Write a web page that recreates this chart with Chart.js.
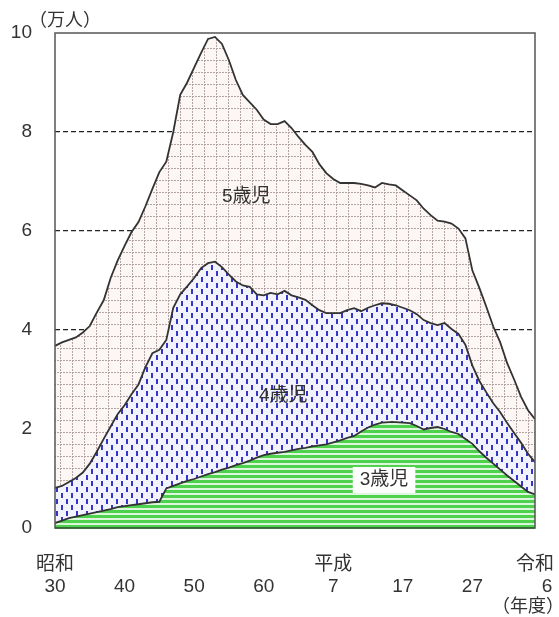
<!DOCTYPE html>
<html>
<head>
<meta charset="utf-8">
<script src="https://cdn.jsdelivr.net/npm/chart.js@4/dist/chart.umd.min.js"></script>
<style>
  html, body { margin: 0; padding: 0; background: #fff; }
</style>
</head>
<body>
<canvas id="chart" width="559" height="617"></canvas>
<script>
// ── Data (万人) ───────────────────────────────────────────
const years = [
  1955, 1956, 1957, 1958, 1959, 1960, 1961, 1962, 1963, 1964,
  1965, 1966, 1967, 1968, 1969, 1970, 1971, 1972, 1973, 1974,
  1975, 1976, 1977, 1978, 1979, 1980, 1981, 1982, 1983, 1984,
  1985, 1986, 1987, 1988, 1989, 1990, 1991, 1992, 1993, 1994,
  1995, 1996, 1997, 1998, 1999, 2000, 2001, 2002, 2003, 2004,
  2005, 2006, 2007, 2008, 2009, 2010, 2011, 2012, 2013, 2014,
  2015, 2016, 2017, 2018, 2019, 2020, 2021, 2022, 2023, 2024,
];

const age3 = [
  0.10, 0.15, 0.20, 0.23, 0.26, 0.29, 0.32, 0.35, 0.38, 0.42,
  0.44, 0.46, 0.48, 0.50, 0.52, 0.53, 0.80, 0.85, 0.90, 0.95,
  0.99, 1.04, 1.09, 1.13, 1.18, 1.22, 1.27, 1.31, 1.36, 1.42,
  1.47, 1.50, 1.52, 1.54, 1.57, 1.60, 1.62, 1.65, 1.67, 1.69,
  1.73, 1.77, 1.82, 1.86, 1.95, 2.03, 2.09, 2.13, 2.14, 2.14,
  2.13, 2.12, 2.06, 1.99, 2.02, 2.04, 2.00, 1.94, 1.90, 1.80,
  1.70, 1.55, 1.42, 1.30, 1.18, 1.06, 0.95, 0.84, 0.73, 0.68,
];

const age4 = [
  0.71, 0.70, 0.73, 0.78, 0.86, 1.01, 1.22, 1.45, 1.67, 1.88,
  2.04, 2.24, 2.42, 2.75, 3.01, 3.07, 3.00, 3.60, 3.82, 3.93,
  4.06, 4.21, 4.26, 4.25, 4.09, 3.90, 3.71, 3.59, 3.51, 3.30,
  3.23, 3.25, 3.20, 3.25, 3.13, 3.06, 2.99, 2.85, 2.73, 2.65,
  2.61, 2.57, 2.58, 2.58, 2.43, 2.42, 2.41, 2.41, 2.39, 2.36,
  2.32, 2.28, 2.26, 2.21, 2.12, 2.06, 2.14, 2.08, 2.02, 1.90,
  1.58, 1.42, 1.32, 1.22, 1.16, 1.06, 0.97, 0.88, 0.77, 0.65,
];

const age5 = [
  2.87, 2.90, 2.87, 2.84, 2.83, 2.78, 2.81, 2.80, 3.00, 3.10,
  3.22, 3.28, 3.28, 3.25, 3.32, 3.59, 3.60, 3.55, 4.03, 4.12,
  4.25, 4.35, 4.53, 4.54, 4.51, 4.33, 4.07, 3.85, 3.73, 3.73,
  3.55, 3.41, 3.44, 3.43, 3.38, 3.24, 3.13, 3.10, 2.95, 2.83,
  2.71, 2.63, 2.57, 2.53, 2.57, 2.47, 2.38, 2.43, 2.41, 2.42,
  2.37, 2.32, 2.30, 2.25, 2.18, 2.11, 2.05, 2.13, 2.13, 2.15,
  1.92, 1.88, 1.73, 1.55, 1.41, 1.21, 1.08, 0.93, 0.88, 0.87,
];

const seriesNames = ["3歳児", "4歳児", "5歳児"];

const tickYears = [1955, 1965, 1975, 1985, 1995, 2005, 2015, 2024];
const tickEras = ["昭和", "", "", "", "平成", "", "", "令和"];
const tickNums = ["30", "40", "50", "60", "7", "17", "27", "6"];

// ── Style helpers ─────────────────────────────────────────
const FONT = "'Liberation Sans', 'Noto Sans CJK JP', sans-serif";
const TEXT = "#333";

function makePattern(w, h, draw) {
  const c = document.createElement("canvas");
  c.width = w;
  c.height = h;
  const g = c.getContext("2d");
  draw(g, w, h);
  return g.createPattern(c, "repeat");
}

// 5歳: pale pink with dashed grey grid
const gridPattern = makePattern(12, 12, (g, w, h) => {
  g.fillStyle = "#fcf6f4";
  g.fillRect(0, 0, w, h);
  g.fillStyle = "#b3a3a2";
  for (let i = 0; i < w; i += 3) g.fillRect(i, 0, 2, 1);
  for (let j = 0; j < h; j += 3) g.fillRect(0, j, 1, 2);
});

// 4歳: staggered blue dashes
const dashPattern = makePattern(10, 12, (g, w, h) => {
  g.fillStyle = "#f3f3ff";
  g.fillRect(0, 0, w, h);
  g.fillStyle = "#3535c8";
  g.fillRect(1, 1, 2, 5);
  g.fillRect(6, 7, 2, 5);
});

// 3歳: horizontal green stripes
const stripePattern = makePattern(4, 5, (g, w, h) => {
  g.fillStyle = "#dcf7dc";
  g.fillRect(0, 0, w, h);
  g.fillStyle = "#4ed24e";
  g.fillRect(0, 0, w, 3);
});

const toPoints = (arr) => arr.map((v, i) => ({ x: years[i], y: v }));

function makeArea(label, values, pattern, fill) {
  return {
    label,
    data: toPoints(values),
    backgroundColor: pattern,
    borderColor: "#333",
    borderWidth: 1.8,
    pointRadius: 0,
    tension: 0,
    fill,
  };
}

// ── Text overlays: frame, units, year note, in-area labels ─
const overlayPlugin = {
  id: "overlay",
  afterDatasetsDraw(chart) {
    const { ctx, chartArea: a, scales } = chart;
    ctx.save();

    ctx.strokeStyle = "#555";
    ctx.lineWidth = 1.5;
    ctx.strokeRect(a.left, a.top, a.right - a.left, a.bottom - a.top);
    ctx.strokeStyle = "#2e6b2e";
    ctx.beginPath();
    ctx.moveTo(a.left, a.bottom);
    ctx.lineTo(a.right, a.bottom);
    ctx.stroke();

    ctx.fillStyle = TEXT;
    ctx.textAlign = "center";
    ctx.textBaseline = "middle";
    ctx.font = `18px ${FONT}`;
    ctx.fillText("（万人）", a.left + 10, a.top - 12);
    ctx.fillText("（年度）", a.right - 7, chart.height - 10);

    // series labels anchored in data space
    const anchors = [
      { name: seriesNames[2], x: 1982.5, y: 6.7, box: false },
      { name: seriesNames[1], x: 1987.8, y: 2.67, box: false },
      { name: seriesNames[0], x: 2002.3, y: 0.97, box: true },
    ];
    ctx.font = `19px ${FONT}`;
    anchors.forEach((p) => {
      const px = scales.x.getPixelForValue(p.x);
      const py = scales.y.getPixelForValue(p.y);
      if (p.box) {
        const w = ctx.measureText(p.name).width + 14;
        ctx.fillStyle = "#fff";
        ctx.fillRect(px - w / 2, py - 13, w, 26);
      }
      ctx.fillStyle = TEXT;
      ctx.fillText(p.name, px, py);
    });
    ctx.restore();
  },
};

new Chart(document.getElementById("chart"), {
  type: "line",
  data: {
    datasets: [
      makeArea(seriesNames[0], age3, stripePattern, "origin"),
      makeArea(seriesNames[1], age4, dashPattern, "-1"),
      makeArea(seriesNames[2], age5, gridPattern, "-1"),
    ],
  },
  options: {
    responsive: false,
    devicePixelRatio: 1,
    animation: false,
    layout: { padding: { top: 33, right: 24, left: 0, bottom: 0 } },
    plugins: {
      legend: { display: false },
      tooltip: { enabled: false },
      filler: { drawTime: "beforeDatasetsDraw" },
    },
    scales: {
      x: {
        type: "linear",
        min: 1955,
        max: 2024,
        grid: { display: false },
        border: { display: false },
        afterBuildTicks: (scale) => {
          scale.ticks = tickYears.map((v) => ({ value: v }));
        },
        afterFit: (scale) => {
          scale.height = 89;
          scale.paddingLeft = 0;
          scale.paddingRight = 0;
        },
        ticks: {
          autoSkip: false,
          maxRotation: 0,
          padding: 17,
          color: TEXT,
          font: { family: FONT, size: 19, lineHeight: 1.2 },
          callback: (v) => {
            const i = tickYears.indexOf(v);
            if (i < 0) return "";
            // last number sits under the right half of 令和
            const num = i === tickYears.length - 1 ? "\u2003 " + tickNums[i] : tickNums[i];
            return [tickEras[i], num];
          },
        },
      },
      y: {
        stacked: true,
        min: 0,
        max: 10,
        afterFit: (scale) => {
          scale.width = 55;
          scale.paddingTop = 0;
          scale.paddingBottom = 0;
        },
        border: { display: false, dash: [5, 3] },
        grid: {
          drawTicks: false,
          lineWidth: 1.2,
          color: (ctx) =>
            ctx.tick && (ctx.tick.value === 0 || ctx.tick.value === 10)
              ? "rgba(0,0,0,0)"
              : "#222",
        },
        ticks: {
          stepSize: 2,
          padding: 23,
          color: TEXT,
          font: { family: FONT, size: 19 },
        },
      },
    },
  },
  plugins: [overlayPlugin],
});
</script>
</body>
</html>
